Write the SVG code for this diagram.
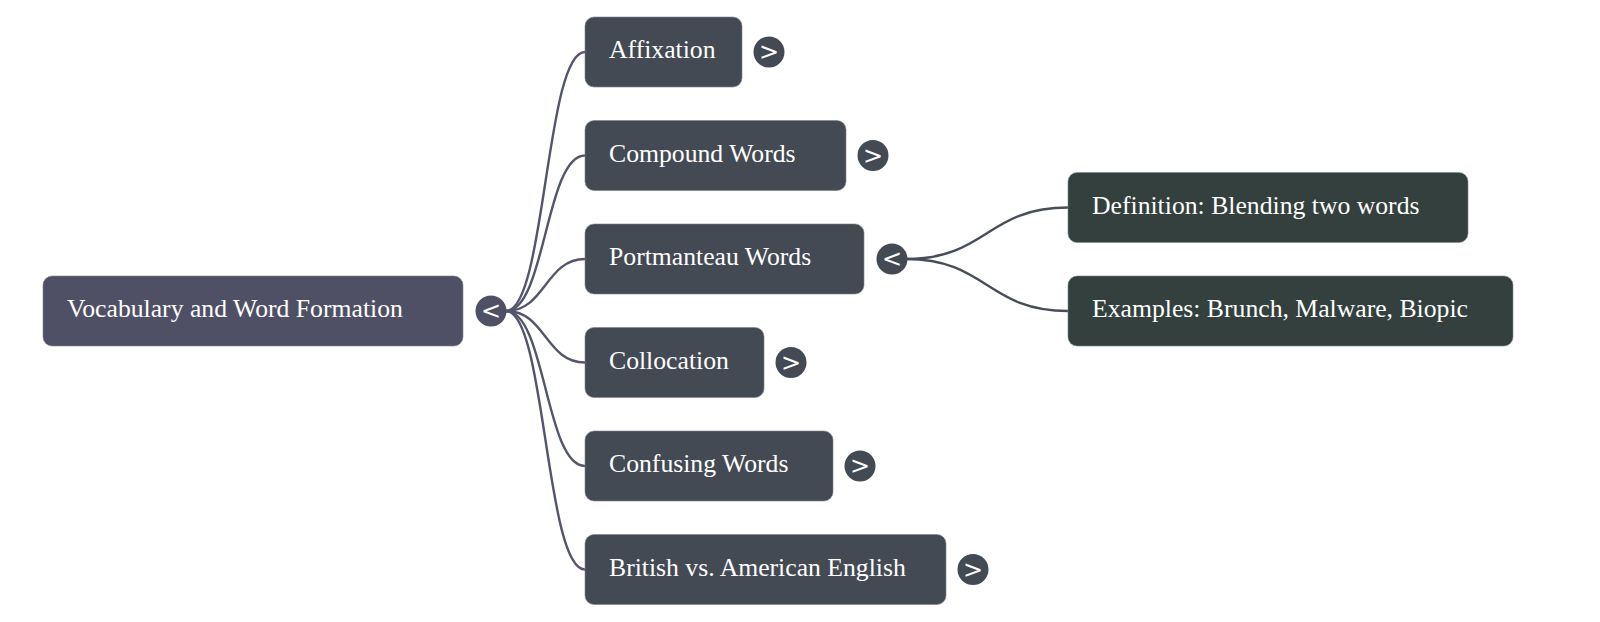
<svg xmlns="http://www.w3.org/2000/svg" width="1600" height="622" viewBox="0 0 1600 622">
<style>
.box{stroke:#7d828c;stroke-width:1;stroke-opacity:0.6}
.root{fill:#4f5066}
.child{fill:#434a54}
.leaf{fill:#33403e}
.lbl{font-family:"Liberation Serif","Times New Roman",serif;font-size:25.7px;fill:#ffffff}
.tog{font-family:"DejaVu Sans",Arial,sans-serif;font-size:24px;font-weight:normal;fill:#ffffff;text-anchor:middle;dominant-baseline:central}
.c1{fill:#4f5066}
.c2{fill:#434a54}
.e1{fill:none;stroke:#53556d;stroke-width:2.4}
.e2{fill:none;stroke:#484e58;stroke-width:2.4}
</style>
<rect width="1600" height="622" fill="#ffffff"/>
<g id="connectors">
<path class="e1" d="M506 311 C545.5 311 545.5 52 585 52"/>
<path class="e1" d="M506 311 C545.5 311 545.5 155.5 585 155.5"/>
<path class="e1" d="M506 311 C545.5 311 545.5 259 585 259"/>
<path class="e1" d="M506 311 C545.5 311 545.5 362.5 585 362.5"/>
<path class="e1" d="M506 311 C545.5 311 545.5 466 585 466"/>
<path class="e1" d="M506 311 C545.5 311 545.5 569.5 585 569.5"/>
<path class="e2" d="M906 259 C987 259 987 207.5 1068 207.5"/>
<path class="e2" d="M906 259 C987 259 987 311 1068 311"/>
</g>
<g id="root">
<rect class="box root" x="43" y="276" width="420" height="70" rx="9"/>
<text class="lbl" x="67" y="317">Vocabulary and Word Formation</text>
<circle class="c1" cx="491" cy="311" r="15.5"/>
<text class="tog" x="491" y="311">&lt;</text>
</g>
<g id="affixation">
<rect class="box child" x="585" y="17" width="157" height="70" rx="9"/>
<text class="lbl" x="609" y="58">Affixation</text>
<circle class="c2" cx="769" cy="52" r="15.5"/>
<text class="tog" x="769" y="52">&gt;</text>
</g>
<g id="compound">
<rect class="box child" x="585" y="120.5" width="261" height="70" rx="9"/>
<text class="lbl" x="609" y="161.5">Compound Words</text>
<circle class="c2" cx="873" cy="155.5" r="15.5"/>
<text class="tog" x="873" y="155.5">&gt;</text>
</g>
<g id="portmanteau">
<rect class="box child" x="585" y="224" width="279" height="70" rx="9"/>
<text class="lbl" x="609" y="265">Portmanteau Words</text>
<circle class="c2" cx="892" cy="259" r="15.5"/>
<text class="tog" x="892" y="259">&lt;</text>
</g>
<g id="collocation">
<rect class="box child" x="585" y="327.5" width="179" height="70" rx="9"/>
<text class="lbl" x="609" y="368.5">Collocation</text>
<circle class="c2" cx="791" cy="362.5" r="15.5"/>
<text class="tog" x="791" y="362.5">&gt;</text>
</g>
<g id="confusing">
<rect class="box child" x="585" y="431" width="248" height="70" rx="9"/>
<text class="lbl" x="609" y="472">Confusing Words</text>
<circle class="c2" cx="860" cy="466" r="15.5"/>
<text class="tog" x="860" y="466">&gt;</text>
</g>
<g id="british">
<rect class="box child" x="585" y="534.5" width="361" height="70" rx="9"/>
<text class="lbl" x="609" y="575.5">British vs. American English</text>
<circle class="c2" cx="973" cy="569.5" r="15.5"/>
<text class="tog" x="973" y="569.5">&gt;</text>
</g>
<g id="definition">
<rect class="box leaf" x="1068" y="172.5" width="400" height="70" rx="9"/>
<text class="lbl" x="1092" y="213.5">Definition: Blending two words</text>
</g>
<g id="examples">
<rect class="box leaf" x="1068" y="276" width="445" height="70" rx="9"/>
<text class="lbl" x="1092" y="317">Examples: Brunch, Malware, Biopic</text>
</g>
</svg>
